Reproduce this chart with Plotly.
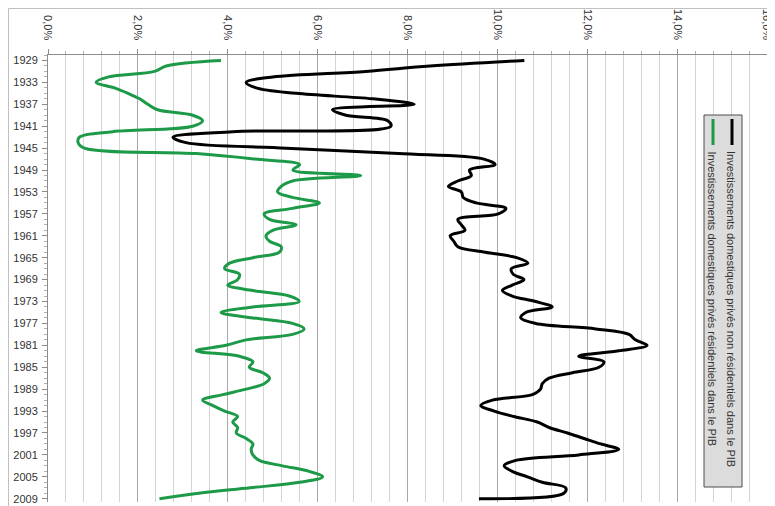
import plotly.graph_objects as go

years = list(range(1929, 2010))

non_residential = [
    10.6, 8.5, 7.07, 5.0, 4.41, 4.63, 5.52, 7.22, 8.15, 6.33,
    6.63, 7.56, 7.63, 4.11, 2.78, 3.07, 5.3, 7.8, 9.7, 9.95,
    9.38, 9.42, 9.12, 8.91, 9.2, 9.24, 9.53, 10.19, 10.02, 9.12,
    9.2, 9.28, 8.95, 9.03, 9.12, 9.73, 10.43, 10.68, 10.31, 10.35,
    10.59, 10.33, 10.11, 10.33, 10.85, 11.22, 10.63, 10.52, 10.85, 12.19,
    12.93, 13.07, 13.33, 12.7, 11.81, 12.37, 12.26, 11.67, 11.15, 11.0,
    10.96, 10.78, 9.89, 9.63, 9.93, 10.37, 10.89, 11.15, 11.56, 11.93,
    12.3, 12.7, 11.81, 10.41, 10.15, 10.33, 10.67, 11.0, 11.52, 11.48,
    9.59,
]

residential = [
    3.85, 2.63, 2.37, 1.35, 1.07, 1.48, 1.78, 2.04, 2.22, 2.44,
    3.22, 3.44, 3.22, 1.44, 0.70, 0.67, 0.81, 3.3, 4.6, 5.6,
    5.45, 6.96, 5.44, 5.19, 5.11, 5.44, 6.04, 5.44, 4.81, 4.93,
    5.52, 5.00, 4.85, 4.93, 5.19, 5.15, 4.56, 4.04, 3.93, 4.26,
    4.22, 4.00, 4.56, 5.37, 5.59, 4.56, 3.85, 4.56, 5.44, 5.70,
    5.44, 4.41, 3.96, 3.30, 4.26, 4.56, 4.48, 4.78, 4.93, 4.81,
    4.41, 3.89, 3.44, 3.67, 3.93, 4.22, 4.11, 4.22, 4.19, 4.41,
    4.56, 4.52, 4.56, 4.70, 5.22, 5.81, 6.11, 5.60, 4.50, 3.35,
    2.48,
]

series_names = [
    "Investissements domestiques privés non résidentiels dans le PIB",
    "Investissements domestiques privés résidentiels dans le PIB",
]
series_colors = ["#000000", "#1c9a48"]

year_ticks = list(range(1929, 2010, 4))
pct_ticks = [0, 2, 4, 6, 8, 10, 12, 14, 16]
pct_labels = ["0,0%", "2,0%", "4,0%", "6,0%", "8,0%", "10,0%", "12,0%", "14,0%", "16,0%"]

# the page body has an 8px margin: figure origin sits at page (8, 8)
OFF = 8
W, H = 767, 498
# plot-area geometry in page pixels
L, R, T, B = 48, 767, 55, 502


def px(X):
    return (X - L) / (R - L)


def py(Y):
    return (B - Y) / (B - T)


fig = go.Figure()
for vals, name, col in zip([non_residential, residential], series_names, series_colors):
    fig.add_trace(go.Scatter(
        x=vals, y=years, mode="lines", name=name,
        line=dict(color=col, width=3, shape="spline", smoothing=1.0),
        showlegend=False,
    ))

fig.update_layout(
    width=W, height=H,
    margin=dict(l=L - OFF, r=W + OFF - R, t=T - OFF, b=H + OFF - B),
    paper_bgcolor="white", plot_bgcolor="white",
    font=dict(family="Liberation Sans", size=11, color="#333333"),
    xaxis=dict(
        side="top", range=[0, 16], tickvals=pct_ticks, ticktext=pct_labels,
        tickangle=90, automargin=False, ticklabelstandoff=5,
        showgrid=True, gridcolor="#a8a8a8", gridwidth=1,
        showline=True, linecolor="#8c8c8c", linewidth=1,
        ticks="outside", ticklen=5, tickcolor="#8c8c8c",
        minor=dict(dtick=0.4, showgrid=True, gridcolor="#d4d4d4",
                   ticks="outside", ticklen=3, tickcolor="#b0b0b0"),
        zeroline=False, fixedrange=True,
    ),
    yaxis=dict(
        range=[2009.6, 1928], tickvals=year_ticks, automargin=False,
        ticklabelstandoff=2,
        showgrid=False, zeroline=False,
        showline=True, linecolor="#8c8c8c", linewidth=1,
        ticks="outside", ticklen=5, tickcolor="#8c8c8c",
        minor=dict(dtick=1, tick0=1929, ticks="outside", ticklen=3, tickcolor="#b0b0b0"),
        fixedrange=True,
    ),
)

# chart-area border (as close to the page edge as the figure allows)
fig.add_shape(type="rect", xref="paper", yref="paper",
              x0=px(8.5), x1=px(773), y0=py(520), y1=py(8.5),
              line=dict(color="#c0c0c0", width=1), layer="below")

# rotated legend box
fig.add_shape(type="rect", xref="paper", yref="paper",
              x0=px(704), x1=px(742), y0=py(487), y1=py(115),
              line=dict(color="#4d4d4d", width=1), fillcolor="#dcdcdc", layer="above")

for i, (name, col) in enumerate(zip(series_names, series_colors)):
    xc = 732 - i * 19
    fig.add_shape(type="line", xref="paper", yref="paper",
                  x0=px(xc), x1=px(xc), y0=py(145), y1=py(119),
                  line=dict(color=col, width=3), layer="above")
    fig.add_annotation(xref="paper", yref="paper", x=px(xc - 1), y=py(149),
                       xanchor="center", yanchor="top", text=name, textangle=90,
                       showarrow=False, font=dict(size=11, color="#333333",
                                                  family="Liberation Sans"))

fig.write_html("out.html")
